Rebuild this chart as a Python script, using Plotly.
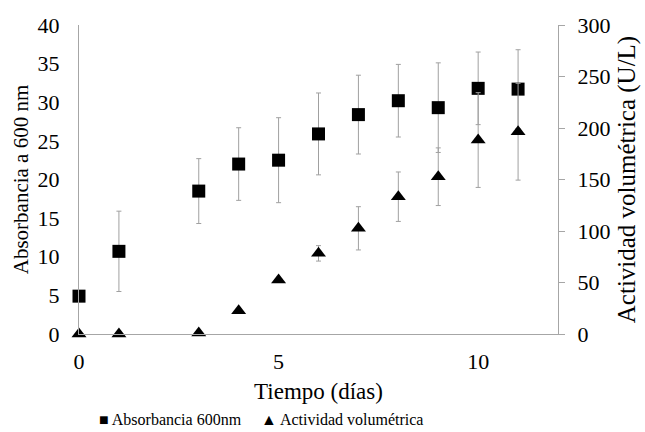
import plotly.graph_objects as go

dias = [0, 1, 3, 4, 5, 6, 7, 8, 9, 10, 11]
absorbancia = [4.9, 10.7, 18.5, 22.0, 22.5, 25.9, 28.4, 30.2, 29.3, 31.8, 31.7]
absorbancia_err = [0, 5.2, 4.2, 4.7, 5.5, 5.3, 5.1, 4.7, 5.8, 4.7, 5.1]
actividad = [0, 0, 1, 22.5, 52.4, 78.3, 102.6, 133.3, 152.7, 188.3, 196.4]
actividad_err = [0, 0, 0, 0, 0, 7.5, 21, 24, 28, 46, 47]
series_names = ["Absorbancia 600nm", "Actividad volumétrica"]

FONT = "Liberation Serif"
AXIS_GRAY = "#A6A6A6"
ERR_GRAY = "#A0A0A0"

fig = go.Figure()
fig.add_trace(go.Scatter(
    x=dias, y=absorbancia, mode="markers", name=series_names[0],
    marker=dict(symbol="square", size=13, color="black"),
    error_y=dict(type="data", array=absorbancia_err, visible=True,
                 color=ERR_GRAY, thickness=1, width=2.5),
    cliponaxis=False, yaxis="y", showlegend=False,
))
fig.add_trace(go.Scatter(
    x=dias, y=actividad, mode="markers", name=series_names[1],
    marker=dict(symbol="triangle-up", size=13, color="black"),
    error_y=dict(type="data", array=actividad_err, visible=True,
                 color=ERR_GRAY, thickness=1, width=2.5),
    cliponaxis=False, yaxis="y2", showlegend=False,
))

tick_font = dict(family=FONT, size=22, color="black")

fig.update_layout(
    width=645, height=432,
    margin=dict(l=79, r=87, t=25, b=98, autoexpand=False),
    paper_bgcolor="white", plot_bgcolor="white",
    font=dict(family=FONT, size=22, color="black"),
    showlegend=False,
    xaxis=dict(range=[0, 12], dtick=5, tick0=0, showline=True, linecolor=AXIS_GRAY,
               linewidth=1, showgrid=False, zeroline=False, ticks="",
               ticklabelstandoff=8, tickfont=tick_font, automargin=False,
               title=dict(text="Tiempo (días)", font=dict(family=FONT, size=23), standoff=9)),
    yaxis=dict(range=[0, 40], dtick=5, tick0=0, showline=True, linecolor=AXIS_GRAY,
               linewidth=1, showgrid=False, zeroline=False, ticks="",
               ticklabelstandoff=14, tickfont=tick_font, automargin=False,
               title=dict(text="Absorbancia a 600 nm", font=dict(family=FONT, size=21), standoff=3)),
    yaxis2=dict(range=[0, 300], dtick=50, tick0=0, overlaying="y", side="right",
                showline=True, linecolor=AXIS_GRAY, linewidth=1, showgrid=False,
                zeroline=False, ticks="outside", ticklen=6, tickcolor=AXIS_GRAY,
                ticklabelstandoff=8, tickfont=tick_font, automargin=False,
                title=dict(text="Actividad volumétrica (U/L)", font=dict(family=FONT, size=25), standoff=8)),
    annotations=[
        dict(text="■ " + series_names[0], x=0.038, y=-0.277, xref="paper", yref="paper",
             xanchor="left", yanchor="middle", showarrow=False,
             font=dict(family=FONT, size=16, color="black")),
        dict(text="▲ " + series_names[1], x=0.376, y=-0.277, xref="paper", yref="paper",
             xanchor="left", yanchor="middle", showarrow=False,
             font=dict(family=FONT, size=16, color="black")),
    ],
)

fig.write_html("out.html")
